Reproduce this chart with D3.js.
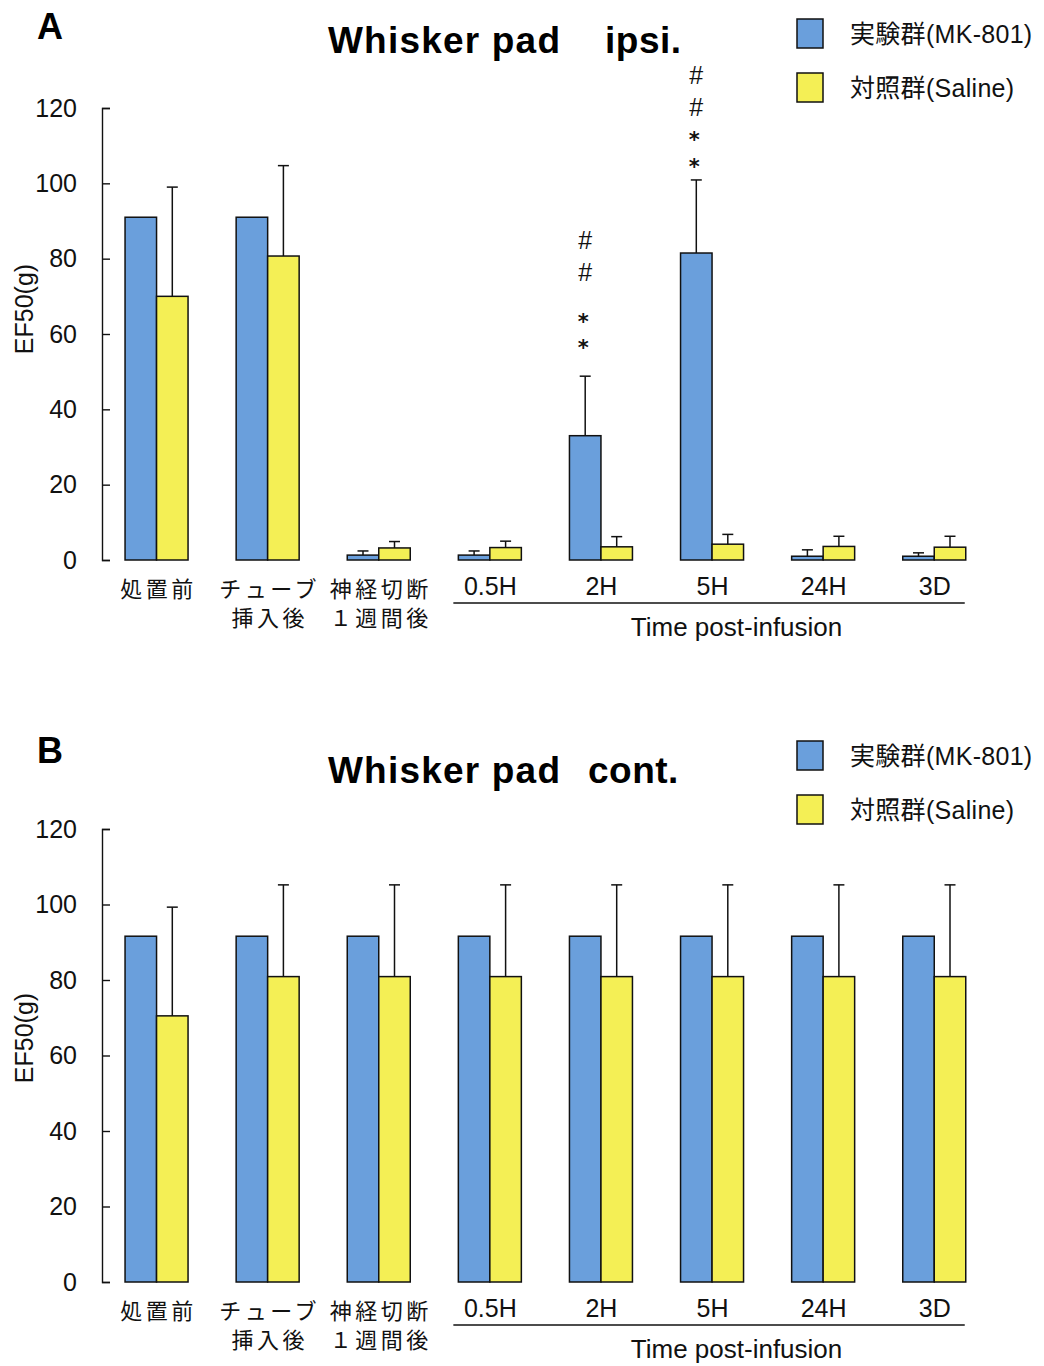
<!DOCTYPE html>
<html><head><meta charset="utf-8">
<script src="https://cdn.jsdelivr.net/npm/d3@7"></script>
<style>body{margin:0;background:#fff}</style>
</head><body>
<svg id="chart" width="1044" height="1366"></svg>
<script>
// ---------- data ----------
const categories = ["処置前", "チューブ挿入後", "神経切断１週間後", "0.5H", "2H", "5H", "24H", "3D"];
const categoryLines = [["処置前"], ["チューブ", "挿入後"], ["神経切断", "１週間後"], ["0.5H"], ["2H"], ["5H"], ["24H"], ["3D"]];
const seriesNames = ["実験群(MK-801)", "対照群(Saline)"];
const yTicks = [0, 20, 40, 60, 80, 100, 120];

// Panel A: Whisker pad ipsi.
const mkIpsi      = [91.0, 91.0, 1.3, 1.3, 33.0, 81.5, 1.0, 1.0];
const mkIpsiErr   = [0, 0, 1.1, 1.1, 15.8, 19.4, 1.7, 0.9];
const salIpsi     = [70.0, 80.7, 3.2, 3.3, 3.5, 4.2, 3.6, 3.4];
const salIpsiErr  = [29.0, 24.0, 1.7, 1.7, 2.7, 2.6, 2.7, 2.9];

// Panel B: Whisker pad cont.
const mkCont      = [91.6, 91.6, 91.6, 91.6, 91.6, 91.6, 91.6, 91.6];
const mkContErr   = [0, 0, 0, 0, 0, 0, 0, 0];
const salCont     = [70.5, 80.9, 80.9, 80.9, 80.9, 80.9, 80.9, 80.9];
const salContErr  = [28.8, 24.3, 24.3, 24.3, 24.3, 24.3, 24.3, 24.3];

// significance marks (bottom to top) above MK-801 bars in panel A
const annotCategories = ["2H", "5H"];
const annotMarks = [["*", "*", "#", "#"], ["*", "*", "#", "#"]];

// ---------- style ----------
const LATIN = "'Liberation Sans', Arial, 'Noto Sans CJK JP', sans-serif";
const CJK = "'Noto Sans CJK JP', 'Liberation Sans', sans-serif";
const BLUE = "#6a9fdc", YELLOW = "#f4ef55";
const colors = [BLUE, YELLOW];

const svg = d3.select("#chart");
svg.append("rect").attr("width", 1044).attr("height", 1366).attr("fill", "#fff");

const x = d3.scaleBand().domain(categories).range([101.5, 990.3]).paddingInner(0).paddingOuter(0);
const xs = d3.scaleBand().domain([0, 1]).range([-32, 31]);

function drawPanel(cfg) {
  const g = svg.append("g");
  const y = d3.scaleLinear().domain([0, 120]).range([cfg.base, cfg.top]);
  const cx = c => x(c) + x.bandwidth() / 2;

  // panel letter & title
  g.append("text").attr("x", 37).attr("y", cfg.letterY).text(cfg.letter)
    .attr("font-family", LATIN).attr("font-weight", "bold").attr("font-size", 36);
  g.append("text").attr("x", 328).attr("y", cfg.titleY).text("Whisker pad")
    .attr("font-family", LATIN).attr("font-weight", "bold").attr("font-size", 37).attr("letter-spacing", 1.2);
  g.append("text").attr("x", cfg.title2X).attr("y", cfg.titleY).text(cfg.title2)
    .attr("font-family", LATIN).attr("font-weight", "bold").attr("font-size", 37).attr("letter-spacing", 0.5);

  // legend
  seriesNames.forEach((s, i) => {
    const ly = cfg.legendY + i * 54;
    g.append("rect").attr("x", 797).attr("y", ly).attr("width", 26).attr("height", 29)
      .attr("fill", colors[i]).attr("stroke", "#111").attr("stroke-width", 1.5);
    g.append("text").attr("x", 850).attr("y", ly + 14.5).attr("dy", "0.36em").text(s)
      .attr("font-family", LATIN).attr("font-size", 25).attr("letter-spacing", 0.3).attr("fill", "#111");
  });

  // y axis
  const ax = g.append("g").attr("transform", "translate(102,0)")
    .call(d3.axisLeft(y).tickValues(yTicks).tickSize(-8).tickSizeOuter(-8).tickPadding(25));
  ax.select(".domain").attr("stroke", "#111").attr("stroke-width", 1.4);
  ax.selectAll(".tick line").attr("stroke", "#111").attr("stroke-width", 1.4);
  ax.selectAll(".tick text").attr("font-family", LATIN).attr("font-size", 25).attr("fill", "#111");

  g.append("text").attr("transform", `translate(33,${cfg.ylabY}) rotate(-90)`)
    .attr("text-anchor", "middle").text("EF50(g)")
    .attr("font-family", LATIN).attr("font-size", 25).attr("fill", "#111");

  // bars
  const series = [cfg.mk, cfg.sal], errs = [cfg.mkErr, cfg.salErr];
  series.forEach((vals, si) => {
    g.selectAll(null).data(categories).enter().append("rect")
      .attr("x", c => cx(c) + xs(si))
      .attr("y", (c, i) => y(vals[i]))
      .attr("width", xs.bandwidth())
      .attr("height", (c, i) => y(0) - y(vals[i]))
      .attr("fill", colors[si]).attr("stroke", "#111").attr("stroke-width", 1.5);
  });
  // error bars (upper only)
  series.forEach((vals, si) => {
    categories.forEach((c, i) => {
      const e = errs[si][i];
      if (!e) return;
      const ex = cx(c) + xs(si) + xs.bandwidth() / 2;
      g.append("line").attr("x1", ex).attr("x2", ex).attr("y1", y(vals[i])).attr("y2", y(vals[i] + e))
        .attr("stroke", "#111").attr("stroke-width", 1.5);
      g.append("line").attr("x1", ex - 5.5).attr("x2", ex + 5.5).attr("y1", y(vals[i] + e)).attr("y2", y(vals[i] + e))
        .attr("stroke", "#111").attr("stroke-width", 1.5);
    });
  });

  // x labels
  categories.forEach((c, i) => {
    const lines = categoryLines[i];
    const isCJK = /[^\x00-\x7F]/.test(lines[0]);
    lines.forEach((ln, li) => {
      g.append("text").attr("x", cx(c) + (isCJK ? 1.5 : 0)).attr("y", cfg.base + (isCJK ? 37 : 35) + li * 29)
        .attr("text-anchor", "middle").text(ln)
        .attr("font-family", isCJK ? CJK : LATIN).attr("font-size", isCJK ? 22 : 25)
        .attr("letter-spacing", isCJK ? 3.5 : 0).attr("fill", "#111");
    });
  });

  // time post-infusion bracket
  const lx1 = cx("0.5H") - 37, lx2 = cx("3D") + 30;
  g.append("line").attr("x1", lx1).attr("x2", lx2).attr("y1", cfg.base + 43).attr("y2", cfg.base + 43)
    .attr("stroke", "#111").attr("stroke-width", 1.4);
  g.append("text").attr("x", cx("5H") + 24).attr("y", cfg.base + 76).attr("text-anchor", "middle")
    .text("Time post-infusion").attr("font-family", LATIN).attr("font-size", 26).attr("fill", "#111");

  // significance marks above the MK-801 bars
  if (cfg.annot) {
    const offs = [[33, 59, 104, 136], [18, 45, 73, 105]];
    annotCategories.forEach((c, k) => {
      const i = categories.indexOf(c);
      const topY = y(cfg.mk[i] + cfg.mkErr[i]);
      const ex = cx(c) + xs(0) + xs.bandwidth() / 2;
      annotMarks[k].forEach((m, j) => {
        const cy = topY - offs[k][j];
        const star = m === "*";
        g.append("text").attr("text-anchor", "middle")
          .attr("x", ex + (star ? -2 : 0)).attr("y", cy + (star ? 12 : 9))
          .attr("font-family", star ? "'DejaVu Sans', sans-serif" : LATIN)
          .attr("font-weight", star ? "bold" : "normal")
          .attr("font-size", star ? 21 : 25).attr("fill", "#111").text(m);
      });
    });
  }
}

drawPanel({letter: "A", letterY: 39, titleY: 53, title2: "ipsi.", title2X: 605, legendY: 19,
  base: 560, top: 108, ylabY: 309, mk: mkIpsi, mkErr: mkIpsiErr, sal: salIpsi, salErr: salIpsiErr, annot: true});
drawPanel({letter: "B", letterY: 763, titleY: 783, title2: "cont.", title2X: 588, legendY: 741,
  base: 1282, top: 829, ylabY: 1038, mk: mkCont, mkErr: mkContErr, sal: salCont, salErr: salContErr, annot: false});
</script>
</body></html>
